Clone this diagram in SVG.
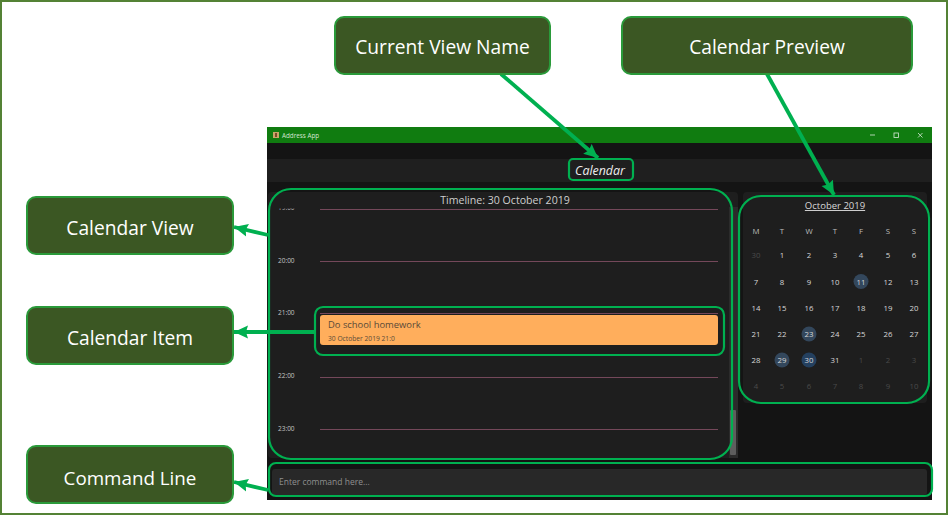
<svg xmlns="http://www.w3.org/2000/svg" width="948" height="515" viewBox="0 0 948 515">
<defs>
<marker id="ah" markerUnits="userSpaceOnUse" markerWidth="16" markerHeight="14" refX="14" refY="7" orient="auto"><path d="M0 0.500L14 7L0 13.500L2 7Z" fill="#00b050"/></marker>
<clipPath id="clip12"><rect x="270" y="208.600" width="40" height="4"/></clipPath>
</defs>
<style>
text{font-family:"Open Sans","Noto Sans","Liberation Sans",sans-serif}
.lb rect{fill:#3b5723;stroke:#2a9a3a;stroke-width:2}
.lb text{fill:#fff;font-size:19.200px;text-anchor:middle}
.hl{fill:none;stroke:#00b050;stroke-width:2.200}
.cn line{stroke:#00b050;stroke-width:3.800;marker-end:url(#ah)}
.rule{stroke:#74485a;stroke-width:1}
.tm{fill:#c4c4c4;font-size:6.500px}
.cal text{fill:#d8d8d8;font-size:7.800px;text-anchor:middle}
.cal .dim{fill:#4a4a4a}
.cal .day{fill:#bdbdbd}
.cal circle{fill:#33475c}
</style>
<rect width="948" height="515" fill="#fff"/>
<rect x="1" y="1" width="946" height="513" fill="none" stroke="#548235" stroke-width="2"/>
<g id="app-window">
<rect x="267" y="127" width="665" height="373" fill="#141414"/>
<rect x="267" y="127" width="665" height="16" fill="#107c10"/>
<rect x="273" y="132" width="6" height="6" fill="#c9a468"/>
<rect x="275" y="133" width="2" height="4" fill="#7a4a2a"/>
<text x="282" y="137.500" font-size="6.300" fill="#d5e5d0">Address App</text>
<g fill="none" stroke="#d8e8d8" stroke-width="0.800"><line x1="870" y1="135" x2="875" y2="135"/><rect x="894" y="133" width="4.500" height="4.500"/><path d="M918 133L922.500 137.500M922.500 133L918 137.500"/></g>
<rect x="267" y="159" width="665" height="23" fill="#1f1f1f"/>
<rect x="268" y="192" width="470" height="266" rx="4" fill="#1e1e1e"/>
<rect x="743" y="192" width="184" height="211" rx="4" fill="#1e1e1e"/>
<rect x="729" y="207" width="9" height="251" fill="#2b2b2b"/>
<rect x="730" y="410" width="6" height="45" rx="1" fill="#5e5e5e"/>
<rect x="272" y="469" width="655" height="26" rx="3" fill="#282828"/>
<text x="600" y="175" font-size="12.400" font-style="italic" fill="#eee" text-anchor="middle">Calendar</text>
<text x="505" y="204" font-size="10.600" fill="#cfcfcf" text-anchor="middle">Timeline: 30 October 2019</text>
<text x="278" y="262.500" class="tm">20:00</text>
<text x="278" y="314.500" class="tm">21:00</text>
<text x="278" y="378" class="tm">22:00</text>
<text x="278" y="430.500" class="tm">23:00</text>
<text x="278" y="210" class="tm" clip-path="url(#clip12)">19:00</text>
<line class="rule" x1="320" y1="209.500" x2="718" y2="209.500"/>
<line class="rule" x1="320" y1="261.500" x2="718" y2="261.500"/>
<line class="rule" x1="320" y1="313.500" x2="718" y2="313.500"/>
<line class="rule" x1="320" y1="377.500" x2="718" y2="377.500"/>
<line class="rule" x1="320" y1="429.500" x2="718" y2="429.500"/>
<text x="279" y="485" font-size="8.500" fill="#8f8f8f">Enter command here...</text>
</g>
<g id="calendar-item">
<rect x="320" y="315" width="398" height="30" rx="3" fill="#ffae5c"/>
<text x="328" y="328" font-size="9.400" fill="#5a4a38">Do school homework</text>
<text x="328" y="341" font-size="6.700" fill="#5a4a38">30 October 2019 21:0</text>
</g>
<g id="calendar-preview" class="cal">
<text x="835" y="209" fill="#cfcfcf" text-decoration="underline" style="font-size:9.500px">October 2019</text>
<circle cx="861" cy="281.500" r="7.500"/><circle cx="809" cy="334" r="7.500"/><circle cx="782" cy="360" r="7.500"/><circle cx="809" cy="360" r="7.500" style="fill:#24405f"/>
<g><text x="756" y="234" class="day">M</text><text x="782" y="234" class="day">T</text><text x="809" y="234" class="day">W</text><text x="835" y="234" class="day">T</text><text x="861" y="234" class="day">F</text><text x="888" y="234" class="day">S</text><text x="914" y="234" class="day">S</text></g>
<text x="756" y="258" class="dim">30</text><text x="782" y="258">1</text><text x="809" y="258">2</text><text x="835" y="258">3</text><text x="861" y="258">4</text><text x="888" y="258">5</text><text x="914" y="258">6</text>
<text x="756" y="284.500">7</text><text x="782" y="284.500">8</text><text x="809" y="284.500">9</text><text x="835" y="284.500">10</text><text x="861" y="284.500">11</text><text x="888" y="284.500">12</text><text x="914" y="284.500">13</text>
<text x="756" y="310.500">14</text><text x="782" y="310.500">15</text><text x="809" y="310.500">16</text><text x="835" y="310.500">17</text><text x="861" y="310.500">18</text><text x="888" y="310.500">19</text><text x="914" y="310.500">20</text>
<text x="756" y="337">21</text><text x="782" y="337">22</text><text x="809" y="337">23</text><text x="835" y="337">24</text><text x="861" y="337">25</text><text x="888" y="337">26</text><text x="914" y="337">27</text>
<text x="756" y="363">28</text><text x="782" y="363">29</text><text x="809" y="363">30</text><text x="835" y="363">31</text><text x="861" y="363" class="dim">1</text><text x="888" y="363" class="dim">2</text><text x="914" y="363" class="dim">3</text>
<text x="756" y="389" class="dim">4</text><text x="782" y="389" class="dim">5</text><text x="809" y="389" class="dim">6</text><text x="835" y="389" class="dim">7</text><text x="861" y="389" class="dim">8</text><text x="888" y="389" class="dim">9</text><text x="914" y="389" class="dim">10</text>
</g>
<g id="highlights">
<rect class="hl" x="569" y="159" width="64" height="21" rx="4"/>
<rect class="hl" x="269" y="189" width="463" height="270" rx="22"/>
<rect class="hl" x="739" y="196" width="190" height="207" rx="22"/>
<rect class="hl" x="315" y="307" width="409" height="48" rx="8"/>
<rect class="hl" x="269" y="463" width="663" height="33" rx="7"/>
</g>
<g id="connectors" class="cn">
<line x1="501" y1="74" x2="598" y2="158"/>
<line x1="767" y1="74" x2="834" y2="195"/>
<line x1="268" y1="235" x2="234" y2="227"/>
<line x1="315" y1="332" x2="234" y2="332"/>
<line x1="268" y1="490" x2="234" y2="482"/>
</g>
<g id="current-view-name" class="lb"><rect x="335" y="17" width="215" height="57" rx="9"/><text x="442.500" y="54">Current View Name</text></g>
<g id="calendar-preview-label" class="lb"><rect x="622" y="17" width="290" height="57" rx="9"/><text x="767" y="54">Calendar Preview</text></g>
<g id="calendar-view" class="lb"><rect x="27" y="197" width="206" height="57" rx="9"/><text x="130" y="234.500">Calendar View</text></g>
<g id="calendar-item-label" class="lb"><rect x="27" y="307" width="206" height="57" rx="9"/><text x="130" y="344.500">Calendar Item</text></g>
<g id="command-line" class="lb"><rect x="27" y="446" width="206" height="57" rx="9"/><text x="130" y="484.500" style="font-size:18.800px">Command Line</text></g>
</svg>
